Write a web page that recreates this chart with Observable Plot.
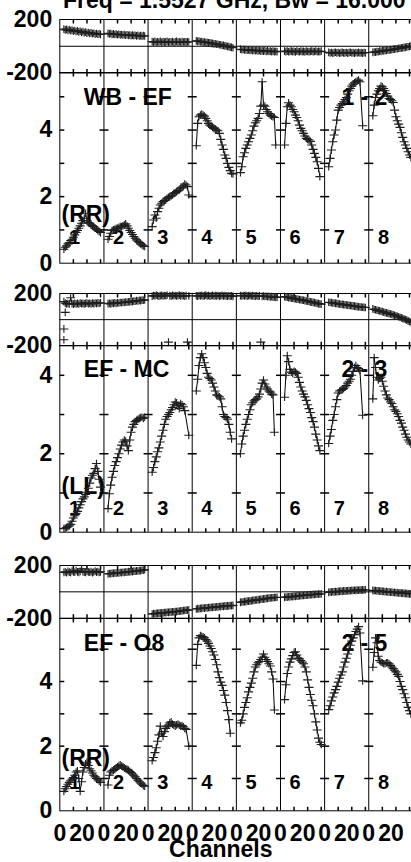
<!DOCTYPE html>
<html>
<head>
<meta charset="utf-8">
<script src="https://cdn.jsdelivr.net/npm/d3@7"></script>
<script src="https://cdn.jsdelivr.net/npm/@observablehq/plot@0.6"></script>
<style>
  html, body { margin: 0; padding: 0; background: #fff; overflow: hidden; }
  #chart { position: relative; width: 411px; height: 862px; overflow: hidden; background: #fff;
    font-family: "Liberation Sans", Arial, Helvetica, sans-serif; font-weight: bold; color: #000; }
  #chart svg { position: absolute; left: 0; }
  .lbl { position: absolute; white-space: nowrap; font-size: 23px; line-height: 23px; }
</style>
</head>
<body>
<div id="chart"></div>
<script>
// ---------------- data ----------------
const titleText = "Freq = 1.5527 GHz, Bw = 16.000";
const xAxisLabel = "Channels";
const ifNumbers = [1, 2, 3, 4, 5, 6, 7, 8];
const firstChannel = 3;          // first plotted channel of every IF
const channelLabelTicks = [0, 20];
const channelMinorTicks = [10, 20, 30];
const phaseTickLabels = [-200, 200];
const phaseZero = [0];
const ampTickLabels = [0, 2, 4];
const baselineNames = ["WB - EF", "EF - MC", "EF - O8"];
const polarizations = ["(RR)", "(LL)", "(RR)"];
const antennaPairs = ["1 - 2", "2 - 3", "2 - 5"];

// phase (degrees), one array per IF, starting at firstChannel
const phaseWBEF = [
  [128,122,126,119,124,117,121,113,118,110,115,108,112,104,109,102,106,98,103,96,100,94,97,91,95,90,92,89],
  [96,92,95,89,93,88,91,86,90,85,88,84,87,82,86,81,84,80,83,79,82,78,81,77,80,76,79,77],
  [35,31,36,30,34,32,37,29,35,31,33,36,30,34,32,35,29,33,36,31,34,30,35,32,33,31,34,32],
  [40,37,38,34,35,31,32,28,29,25,26,22,22,18,19,15,15,11,11,7,7,3,2,-2,-3,-7,-8,-11],
  [-22,-26,-24,-28,-25,-30,-27,-31,-28,-33,-30,-34,-31,-35,-32,-36,-33,-37,-34,-38,-35,-39,-36,-40,-37,-40,-38,-41],
  [-36,-40,-37,-41,-38,-36,-40,-38,-42,-37,-39,-41,-36,-40,-38,-42,-37,-39,-41,-38,-36,-40,-39,-37,-41,-38,-40,-37],
  [-46,-50,-47,-51,-48,-45,-50,-47,-52,-48,-46,-50,-49,-47,-51,-48,-45,-50,-48,-52,-47,-49,-46,-50,-48,-51,-47,-49],
  [-46,-43,-44,-40,-41,-37,-38,-34,-35,-31,-32,-28,-29,-25,-26,-22,-22,-19,-19,-15,-15,-12,-12,-8,-8,-5,-4,-1,1]
];
const phaseEFMC = [
  [138,126,121,124,120,168,123,119,125,121,124,120,126,122,125,121,124,127,122,125,121,126,123,127,124,128,125,129],
  [122,125,121,126,124,128,125,129,127,131,129,133,131,135,133,137,136,140,138,142,141,145,143,147,146,149,148,151],
  [180,185,182,187,183,179,184,186,181,185,183,188,null,184,180,186,183,185,181,184,187,182,185,183,180,184,null,182],
  [183,180,185,182,186,181,184,187,182,185,180,183,186,181,184,182,185,180,183,186,181,184,182,179,183,180,182,178],
  [184,181,185,182,186,180,183,185,181,184,182,180,183,179,182,null,178,181,177,179,176,178,174,176,172,174,170,172],
  [176,173,172,169,168,165,164,161,160,157,156,153,152,149,148,145,143,141,139,136,134,132,130,127,125,123,121,119],
  [133,131,130,127,127,124,124,121,120,118,117,115,114,112,111,109,108,106,105,103,102,100,99,97,96,95,94,93],
  [82,78,76,72,70,67,64,61,58,55,52,49,46,43,40,37,33,30,26,22,18,14,10,5,1,-4,-9,-14,-20]
];
// isolated (wrapped) phase points on EF - MC: [IF, channel, phase]
const phaseOutliersEFMC = [[1, 3, -71], [1, 3, -154], [1, 4, 56], [3, 15, -172], [3, 29, -172], [5, 18, -172]];
const phaseEFO8 = [
  [148,152,145,155,150,147,158,152,149,162,151,148,155,175,153,150,147,156,152,149,154,146,151,157,150,153,148,152],
  [136,139,138,141,140,143,142,145,144,147,146,149,148,151,150,153,152,155,154,157,156,159,158,161,161,164,165,168],
  [-168,-165,-166,-163,-164,-161,-162,-159,-160,-157,-158,-155,-156,-153,-154,-151,-152,-149,-150,-147,-147,-144,-145,-142,-142,-139,-140,-137],
  [-130,-127,-128,-125,-126,-123,-124,-121,-122,-119,-120,-117,-118,-115,-116,-113,-114,-111,-112,-109,-110,-107,-108,-106,-106,-104,-105,-103],
  [-80,-77,-77,-74,-74,-71,-71,-68,-68,-65,-65,-62,-62,-59,-59,-56,-56,-53,-53,-50,-50,-47,-47,-45,-45,-43,-43,-41],
  [-42,-39,-40,-37,-38,-35,-36,-33,-34,-31,-32,-29,-30,-27,-28,-25,-26,-23,-24,-21,-22,-19,-20,-18,-18,-16,-16,-15],
  [-4,-1,-2,1,0,2,1,4,3,5,4,7,6,8,7,9,8,11,10,12,11,13,12,14,13,15,14,16],
  [11,9,10,7,8,5,6,3,4,1,2,-1,0,-3,-2,-5,-4,-7,-6,-9,-8,-10,-10,-12,-12,-13,-14,-15,-15]
];

// amplitude, one array per IF, starting at firstChannel
const ampWBEF = [
  [0.42,0.48,0.52,0.58,0.62,0.68,0.72,0.78,0.85,0.92,0.98,1.05,1.12,1.2,1.28,1.35,1.5,1.28,1.22,1.2,1.15,1.12,1.1,1.05,1.02,0.98,0.95,0.92],
  [0.72,0.8,0.9,0.98,1.0,1.02,1.05,1.05,1.08,1.1,1.1,1.12,1.15,1.18,1.12,1.05,0.98,0.92,0.86,0.8,0.75,0.7,0.66,0.62,0.58,0.55,0.52,0.5],
  [1.1,1.3,1.45,1.35,1.55,1.65,1.75,1.8,1.85,1.88,1.9,1.95,1.98,2.0,2.02,2.05,2.1,2.12,2.15,2.18,2.2,2.25,2.28,2.32,2.38,2.35,2.3,2.05],
  [3.53,4.2,4.4,4.45,4.48,4.45,4.42,4.35,4.28,4.2,4.15,4.12,4.08,4.05,4.03,4.0,3.98,3.9,3.72,3.55,3.42,3.25,3.15,3.0,2.88,2.78,2.7,2.68],
  [2.72,2.9,3.2,3.32,3.45,3.55,3.65,3.75,3.85,3.98,4.12,4.22,4.28,4.35,4.5,4.72,5.45,4.75,4.72,4.62,4.55,4.5,4.45,4.42,4.4,4.38,3.55],
  [3.55,4.2,4.7,4.82,4.75,4.7,4.62,4.55,4.45,4.38,4.28,4.15,4.05,3.98,3.9,3.82,3.75,3.72,3.7,3.66,3.55,3.42,3.3,3.18,3.05,2.85,2.6],
  [2.9,3.15,3.4,3.65,3.85,4.0,4.3,4.6,4.68,4.75,4.8,4.85,4.92,4.98,5.08,5.18,5.25,5.32,5.38,5.42,5.45,5.48,5.5,5.45,null,4.13],
  [4.43,4.75,4.98,5.08,5.18,5.25,5.32,5.3,5.25,5.18,5.1,5.02,4.95,4.92,4.88,4.83,4.6,4.4,4.28,4.18,4.08,3.92,3.78,3.65,3.55,3.45,3.35,3.25,3.18]
];
const ampEFMC = [
  [0.09,0.1,0.12,0.14,0.16,0.2,0.28,0.36,0.42,0.48,0.53,0.62,0.7,0.78,0.85,0.9,0.96,1.02,1.12,1.25,1.38,1.45,1.5,1.62,1.75,1.55,1.35,1.15],
  [0.6,0.98,1.2,1.4,1.55,1.7,1.8,1.9,2.0,2.12,2.22,2.3,2.35,2.32,2.2,2.08,2.35,2.55,2.68,2.75,2.82,2.85,2.88,2.9,2.92,2.93,2.9,2.93],
  [1.53,1.65,1.8,1.92,2.05,2.15,2.3,2.45,2.6,2.75,2.88,2.95,3.0,3.05,3.12,3.18,3.25,3.32,3.3,3.22,3.15,3.28,3.25,3.2,3.1,null,null,2.47],
  [3.6,3.9,4.25,4.45,4.55,4.45,4.32,4.2,4.05,3.95,3.92,3.88,3.8,3.7,3.6,3.5,3.48,3.45,3.4,3.2,3.0,2.95,2.92,2.88,2.75,2.55,2.38],
  [2.0,2.25,2.45,2.6,2.75,2.88,3.0,3.12,3.25,3.3,3.35,3.38,3.4,3.45,3.52,3.65,3.8,3.88,3.78,3.7,3.65,3.6,3.57,3.52,3.5,2.55],
  [3.44,4.0,4.5,4.35,4.15,4.08,4.05,4.1,4.08,4.05,3.95,3.82,3.7,3.6,3.52,3.45,3.36,3.25,3.15,3.05,2.92,2.82,2.68,2.5,2.35,2.2,2.08],
  [2.26,2.45,2.62,2.85,3.0,3.2,3.38,3.55,3.6,3.62,3.64,3.66,3.7,3.74,3.8,3.85,3.9,4.0,4.1,4.2,4.25,4.2,4.17,4.12,null,2.98],
  [3.4,4.45,4.2,3.95,3.88,3.92,3.95,3.85,3.72,3.6,3.5,3.42,3.38,3.32,3.28,3.2,3.12,3.08,3.02,2.95,2.85,2.78,2.68,2.6,2.5,2.42,2.35,2.3,2.25]
];
const ampEFO8 = [
  [0.6,0.68,0.75,0.82,0.88,0.93,0.98,1.03,1.1,1.2,1.24,1.0,0.6,0.9,1.2,1.34,1.45,1.5,1.4,1.3,1.24,1.17,1.1,1.05,1.0,0.96,0.92,0.88],
  [0.8,1.1,1.2,1.24,1.26,1.28,1.32,1.36,1.4,1.42,1.38,1.36,1.32,1.3,1.28,1.26,1.22,1.18,1.14,1.1,1.05,1.0,0.95,0.9,0.86,0.82,0.78,0.76],
  [1.55,1.65,1.8,1.95,2.15,2.35,2.62,2.4,2.3,2.45,2.55,2.6,2.65,2.72,2.75,2.68,2.65,2.62,2.66,2.68,2.65,2.62,2.64,2.6,2.55,2.52,null,2.0],
  [4.5,5.15,5.35,5.42,5.4,5.38,5.35,5.3,5.25,5.18,5.1,5.02,4.92,4.82,4.68,4.52,4.3,4.12,3.98,3.88,3.72,3.58,3.35,3.1,2.82,2.4],
  [2.72,2.8,3.0,3.2,3.35,3.5,3.68,3.82,3.95,4.1,4.3,4.45,4.52,4.58,4.62,4.68,4.75,4.85,4.75,4.68,4.62,4.55,4.48,4.3,4.08,3.12],
  [3.44,3.9,4.25,4.45,4.6,4.7,4.8,4.9,4.92,4.82,4.73,4.7,4.65,4.6,4.55,4.45,4.3,4.05,3.82,3.6,3.42,3.25,3.0,2.75,2.5,2.25,2.12,2.05],
  [3.13,3.25,3.4,3.52,3.65,3.75,3.85,3.98,4.1,4.2,4.3,4.45,4.6,4.72,4.85,4.98,5.12,5.25,5.35,5.45,5.55,5.62,5.7,5.5,null,4.02],
  [4.44,4.9,5.35,5.2,4.78,4.65,4.6,4.58,4.55,4.55,4.58,4.58,4.55,4.5,4.45,4.4,4.35,4.3,4.22,4.16,4.0,3.85,3.75,3.62,3.5,3.35,3.2,3.1,3.0]
];

// ---------------- layout ----------------
const W = 411, X0 = 59.3, X1 = 412.4;
const IFW = 32.5;                 // channel units per IF box
const NIF = ifNumbers.length;
const FONT = '"Liberation Sans", Arial, Helvetica, sans-serif';
const chart = document.getElementById("chart");

const ifBoundaries = ifNumbers.slice(1).map(n => (n - 1) * IFW);
const minorTicks = ifNumbers.flatMap(n => channelMinorTicks.map(c => (n - 1) * IFW + c));
const zeroLabelTicks = ifNumbers.map(n => (n - 1) * IFW + channelLabelTicks[0]);
const twentyLabelTicks = ifNumbers.map(n => (n - 1) * IFW + channelLabelTicks[1]);

function seriesRows(series) {
  const rows = [];
  series.forEach((vals, k) => vals.forEach((v, j) => {
    if (v != null) rows.push({x: k * IFW + firstChannel + j, v, ifn: ifNumbers[k]});
  }));
  return rows;
}
function outlierRows(list) {
  return list.map(([ifn, ch, p]) => ({x: (ifn - 1) * IFW + ch, v: p, ifn}));
}

const len = s => Math.sqrt(s / Math.PI);
const tickDown = {draw(c, s) { const l = len(s); c.moveTo(0, 0); c.lineTo(0, l); }};
const tickUp = {draw(c, s) { const l = len(s); c.moveTo(0, 0); c.lineTo(0, -l); }};
const tickRight = {draw(c, s) { const l = len(s); c.moveTo(0, 0); c.lineTo(l, 0); }};
const tickCross = {draw(c, s) { const l = len(s); c.moveTo(-l, 0); c.lineTo(l, 0); }};
const plusMark = {draw(c, s) { const l = len(s); c.moveTo(-l, 0); c.lineTo(l, 0); c.moveTo(0, -l * 0.85); c.lineTo(0, l * 0.85); }};

const TXT = {fontWeight: "bold", fill: "black"};

function addPanel(cfg) {
  const {top, bottom, domain, kind, rows, extra = [], padTop = 15, padBottom = 15} = cfg;
  const marks = [
    Plot.frame({stroke: "black"}),
    Plot.ruleX(ifBoundaries, {stroke: "black"}),
    Plot.dot(minorTicks, {x: d => d, frameAnchor: "top", symbol: tickDown, r: 4, stroke: "black", fill: "none"}),
    Plot.dot(minorTicks, {x: d => d, frameAnchor: "bottom", symbol: tickUp, r: 4, stroke: "black", fill: "none"})
  ];
  if (kind === "phase") {
    marks.push(Plot.ruleY(phaseZero, {stroke: "black"}));
    marks.push(Plot.axisY({ticks: phaseTickLabels, tickSize: 0, tickPadding: 7.6, tickFormat: d => String(d),
      fontSize: 23, ...TXT, label: null}));
  } else {
    const ints = d3.range(1, Math.floor(domain[1]) + 1);
    const cross = ifBoundaries.flatMap(x => ints.map(y => ({x, y})));
    marks.push(Plot.dot(ints, {y: d => d, frameAnchor: "left", symbol: tickRight, r: 4.5, stroke: "black", fill: "none"}));
    marks.push(Plot.dot(cross, {x: "x", y: "y", symbol: tickCross, r: 4.5, stroke: "black", fill: "none"}));
    marks.push(Plot.axisY({ticks: ampTickLabels, tickSize: 0, tickPadding: 7.6, tickFormat: d => String(d),
      fontSize: 23, ...TXT, label: null}));
    marks.push(Plot.text(ifNumbers, {x: d => (d - 1) * IFW, text: d => String(d), frameAnchor: "bottom",
      dx: 14.7, dy: -cfg.ifRaise, lineAnchor: "bottom", textAnchor: "middle", fontSize: 20, ...TXT}));
    marks.push(Plot.text([cfg.pol], {text: d => d, frameAnchor: "bottom-left", dx: 1.7, dy: -cfg.polRaise,
      lineAnchor: "bottom", textAnchor: "start", fontSize: 23, ...TXT}));
    marks.push(Plot.text([cfg.name], {text: d => d, frameAnchor: "top-left", dx: 24, dy: cfg.nameDrop,
      lineAnchor: "bottom", textAnchor: "start", fontSize: 23, ...TXT}));
    marks.push(Plot.text([cfg.pair], {text: d => d, frameAnchor: "top-right", dx: -24.1, dy: cfg.nameDrop,
      lineAnchor: "bottom", textAnchor: "end", fontSize: 23, ...TXT}));
    if (cfg.xLabels) {
      marks.push(Plot.axisX({ticks: zeroLabelTicks, tickSize: 0, tickPadding: 13.7, anchor: "bottom",
        tickFormat: () => String(channelLabelTicks[0]), fontSize: 23, ...TXT, label: null}));
      marks.push(Plot.axisX({ticks: twentyLabelTicks, tickSize: 0, tickPadding: 13.7, anchor: "bottom", dx: -5,
        tickFormat: () => String(channelLabelTicks[1]), fontSize: 23, ...TXT, label: null}));
    }
  }
  marks.push(Plot.line(rows, {x: "x", y: "v", z: "ifn", stroke: "black", strokeWidth: 1}));
  marks.push(Plot.dot(rows, {x: "x", y: "v", symbol: plusMark, r: 4.5, stroke: "#1e1e1e", fill: "none", strokeWidth: 1.1}));
  if (extra.length) marks.push(Plot.dot(extra, {x: "x", y: "v", symbol: plusMark, r: 4.5, stroke: "#1e1e1e", fill: "none", strokeWidth: 1.1}));

  const svg = Plot.plot({
    width: W, height: bottom - top + padTop + padBottom,
    marginTop: padTop, marginBottom: padBottom, marginLeft: X0, marginRight: 0,
    x: {domain: [0, NIF * IFW], range: [X0, X1], axis: null},
    y: {domain, axis: null},
    style: {background: "transparent", overflow: "visible", fontFamily: FONT, fontWeight: "bold", color: "black"},
    marks
  });
  svg.style.top = (top - padTop) + "px";
  chart.appendChild(svg);
}

// baseline 1: WB - EF
addPanel({top: 18.5, bottom: 72, domain: [-200, 200], kind: "phase", rows: seriesRows(phaseWBEF)});
addPanel({top: 72, bottom: 262.7, domain: [0, 5.73], kind: "amp", rows: seriesRows(ampWBEF),
  name: baselineNames[0], pol: polarizations[0], pair: antennaPairs[0], ifRaise: 19.4, polRaise: 41, nameDrop: 33});
// baseline 2: EF - MC
addPanel({top: 292.7, bottom: 345, domain: [-200, 200], kind: "phase", rows: seriesRows(phaseEFMC),
  extra: outlierRows(phaseOutliersEFMC)});
addPanel({top: 345, bottom: 531.7, domain: [0, 4.76], kind: "amp", rows: seriesRows(ampEFMC),
  name: baselineNames[1], pol: polarizations[1], pair: antennaPairs[1], ifRaise: 16.7, polRaise: 38.4, nameDrop: 31.7});
// baseline 3: EF - O8
addPanel({top: 565, bottom: 617.7, domain: [-200, 200], kind: "phase", rows: seriesRows(phaseEFO8)});
addPanel({top: 617.7, bottom: 810, domain: [0, 5.95], kind: "amp", rows: seriesRows(ampEFO8),
  name: baselineNames[2], pol: polarizations[2], pair: antennaPairs[2], ifRaise: 21.3, polRaise: 44.7, nameDrop: 32.7,
  padBottom: 52, xLabels: true});

// title and axis label
const t = document.createElement("div");
t.className = "lbl"; t.textContent = titleText;
t.style.left = "63px"; t.style.top = "-11.2px";
chart.appendChild(t);
const xl = document.createElement("div");
xl.className = "lbl"; xl.textContent = xAxisLabel;
xl.style.left = "220.8px"; xl.style.top = "837.5px"; xl.style.transform = "translateX(-50%)";
chart.appendChild(xl);
</script>
</body>
</html>
